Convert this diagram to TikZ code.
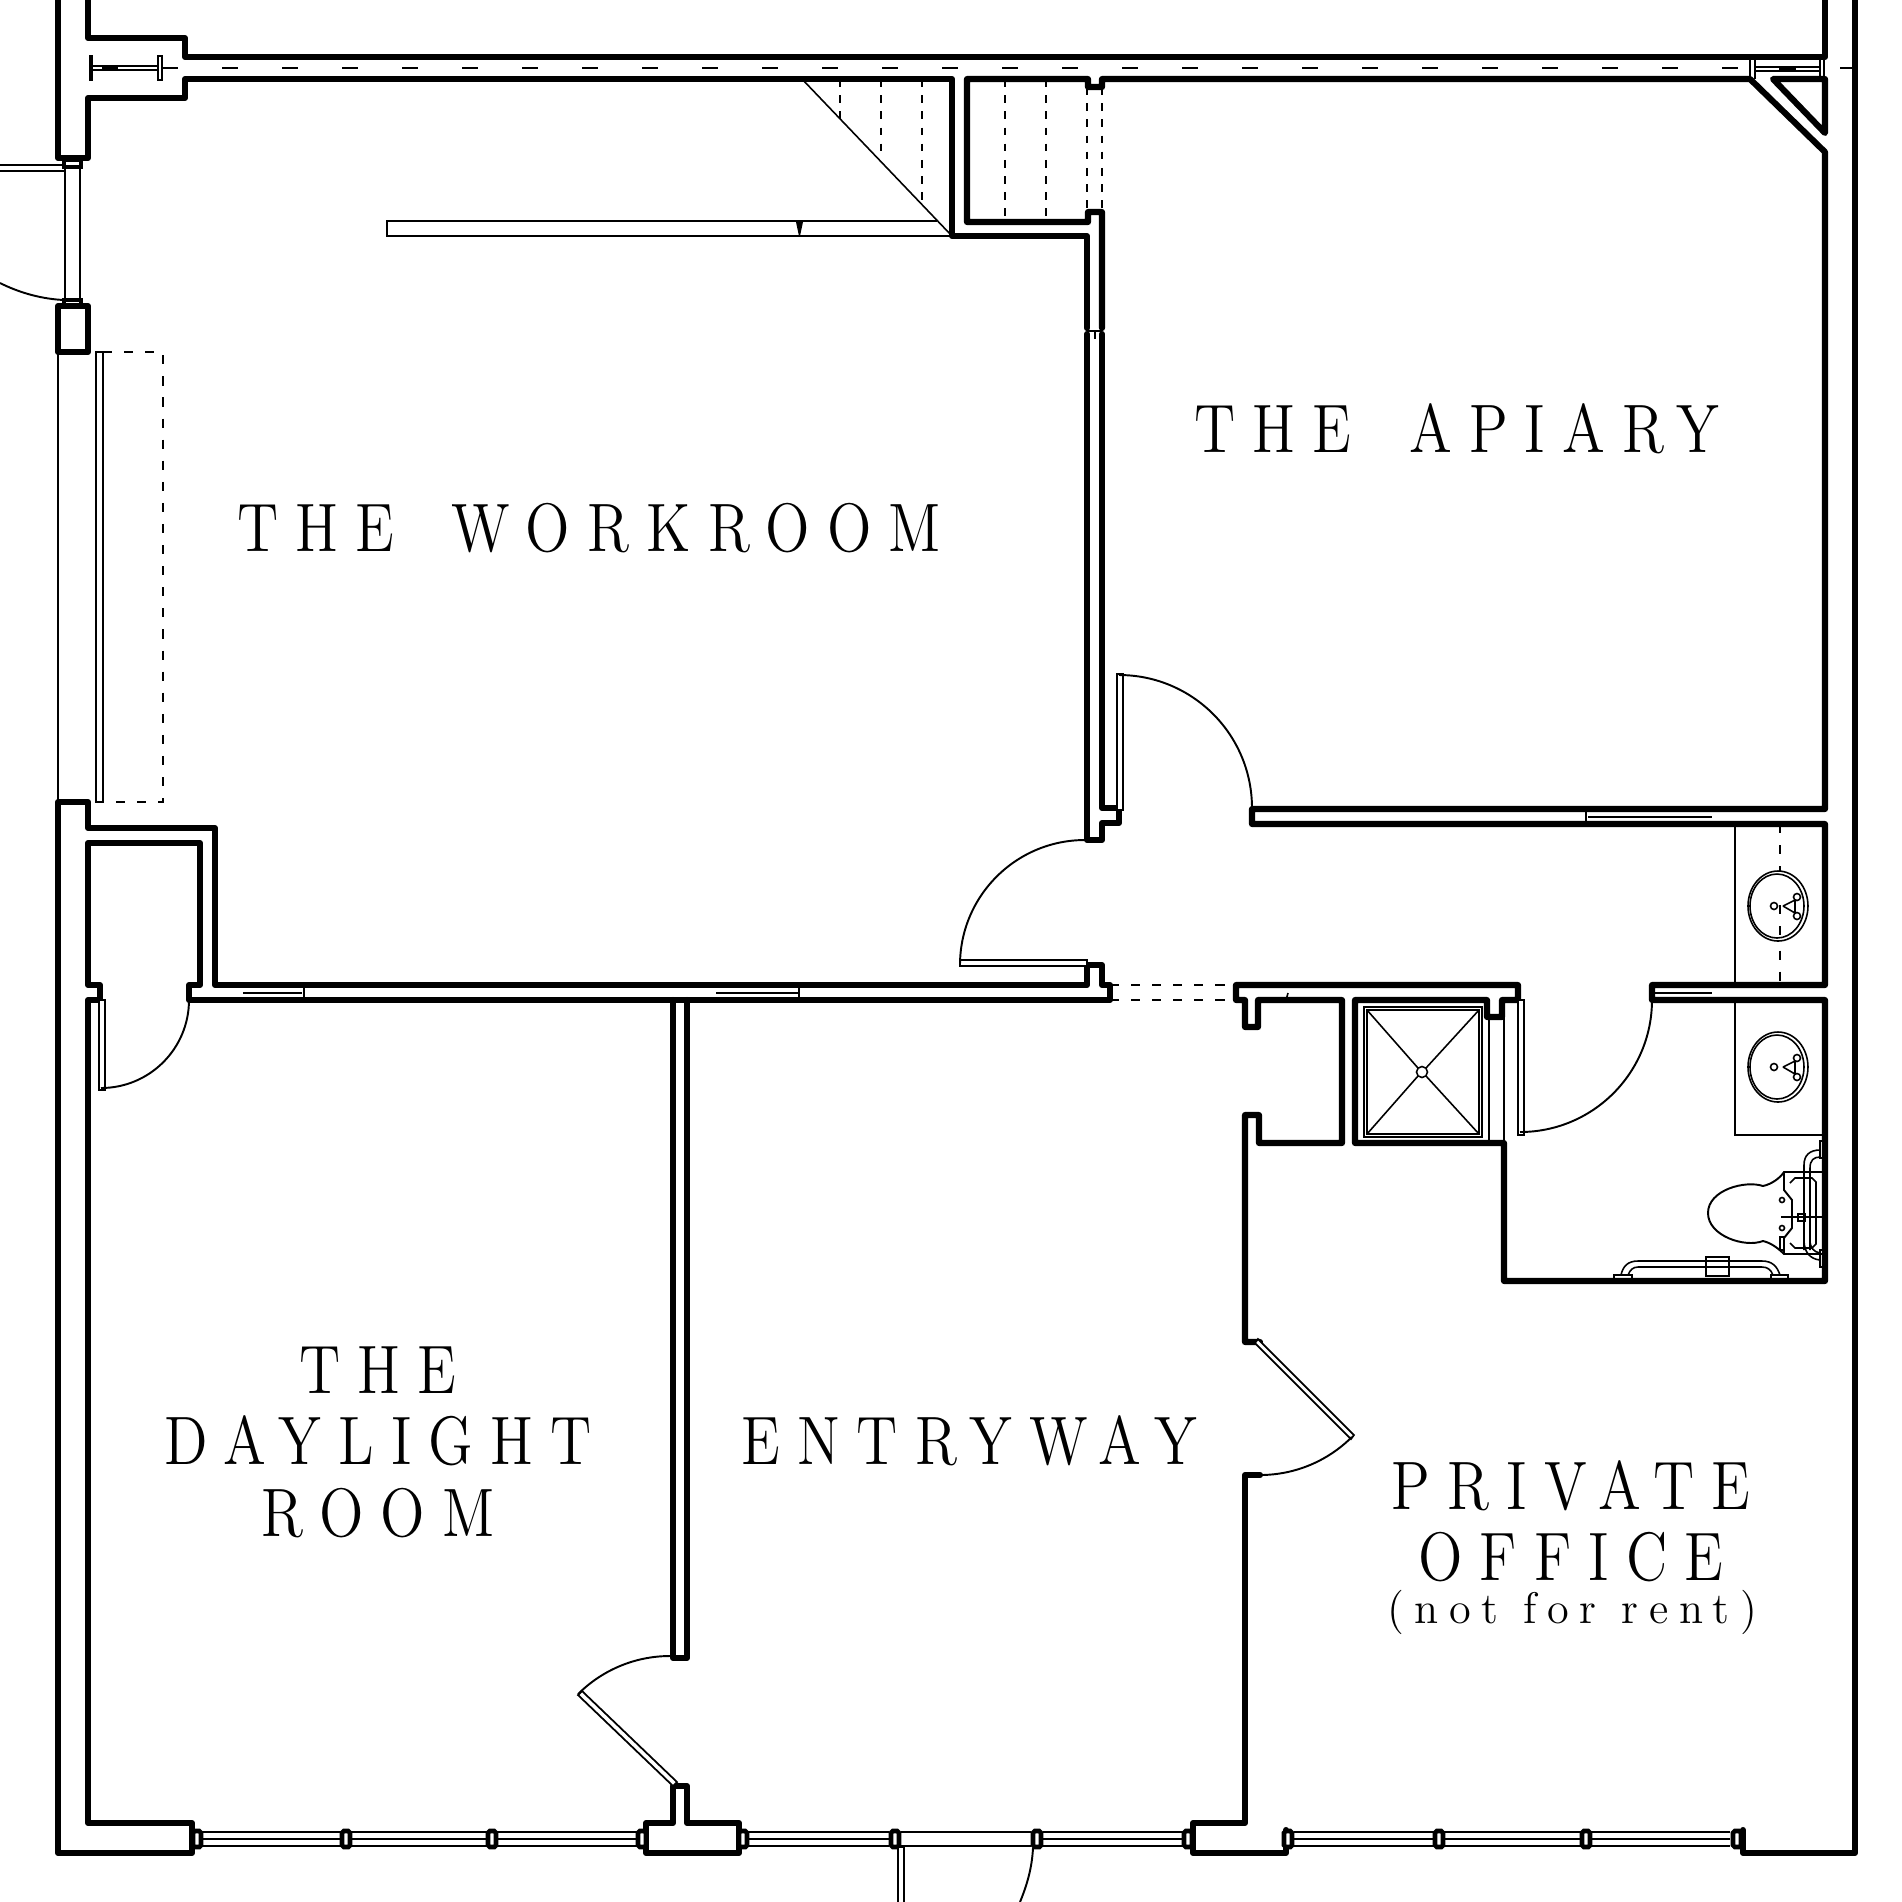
\documentclass[tikz,border=0pt]{standalone}
\usepackage{fontspec}
\usetikzlibrary{positioning}

\newfontfamily\roomface[LetterSpace=25,FakeStretch=0.85,WordSpace=1.6]{lmroman12-regular.otf}
\newfontfamily\noteface[LetterSpace=24]{lmroman12-regular.otf}
\newcommand{\roomfont}{\roomface\fontsize{19.5}{23}\selectfont}
\newcommand{\notefont}{\noteface\fontsize{12.6}{15}\selectfont}

\begin{document}
\begin{tikzpicture}[
    x=0.1mm, y=-0.1mm,
    wall/.style={line width=1.75pt, line join=round, line cap=round},
    thin_line/.style={line width=0.45pt},
    door_leaf/.style={line width=0.5pt, fill=white},
    swing/.style={line width=0.55pt},
    dash_line/.style={line width=0.65pt, dash pattern=on 2.2pt off 2.4pt},
    wide_dash/.style={line width=0.65pt, dash pattern=on 2.6pt off 3.4pt},
    mullion/.style={line width=1.3pt, rounded corners=0.5pt, fill=white},
    room_label/.style={align=center, font=\roomfont, inner sep=0pt}
]
\clip (0,0) rectangle (1902,1902);

% Top wall and left pier
\draw[wall] (88,0) -- (88,38) -- (185,38) -- (185,57) -- (1825,57) -- (1825,0);
\draw[wall] (58,0) -- (58,158) -- (88,158) -- (88,98) -- (185,98) -- (185,79) -- (952,79) -- (952,236) -- (1087,236) -- (1087,328);
\draw[wall] (1087,334) -- (1087,840) -- (1102,840) -- (1102,823) -- (1119,823) -- (1119,808) -- (1102,808) -- (1102,334);
\draw[wall] (1102,328) -- (1102,212) -- (1088,212) -- (1088,222) -- (967,222) -- (967,79) -- (1088,79) -- (1088,87) -- (1102,87) -- (1102,79) -- (1750,79) -- (1825,152) -- (1825,809) -- (1252,809) -- (1252,824) -- (1825,824) -- (1825,985) -- (1652,985) -- (1652,1000) -- (1825,1000) -- (1825,1281) -- (1504,1281) -- (1504,1143) -- (1355,1143) -- (1355,1000) -- (1487,1000) -- (1487,1017) -- (1502,1017) -- (1502,1000) -- (1518,1000) -- (1518,985) -- (1236,985) -- (1236,1000) -- (1245,1000) -- (1245,1027) -- (1258,1027) -- (1258,1000) -- (1342,1000) -- (1342,1143) -- (1259,1143) -- (1259,1115) -- (1245,1115) -- (1245,1342) -- (1260,1342);
\draw[wall] (1773,79) -- (1825,79) -- (1825,133) -- cycle;
\draw[thin_line] (1087,331) -- (1102,331) (1095,331) -- (1095,339);

% Beams in the top wall
\foreach \k in {0,...,25} {
    \draw[thin_line] ({222+60*\k},68) -- ({238+60*\k},68);
}
\draw[thin_line] (90,56) rectangle (92,80) (158,56) rectangle (162,80);
\draw[thin_line] (92,66) -- (158,66) (92,70) -- (158,70) (162,68) -- (178,68);
\draw[line width=1.2pt] (102,68) -- (118,68);
\draw[thin_line] (1750,60) -- (1750,79) (1755,60) -- (1755,79) (1820,60) -- (1820,79) (1824,60) -- (1824,79);
\draw[thin_line] (1755,67) -- (1820,67) (1755,71) -- (1820,71) (1840,68) -- (1855,68);
\draw[line width=1.2pt] (1779,68) -- (1796,68);

% Back door and window
\draw[line width=1.1pt, fill=white] (64,160) rectangle (81,167) (64,300) rectangle (81,306);
\draw[thin_line] (65,167) -- (65,300) (80,167) -- (80,300);
\draw[thin_line] (0,165) -- (64,165) (0,171) -- (64,171);
\draw[swing] (0,283) .. controls (20,293) and (42,299) .. (64,300);
\draw[wall] (58,306) rectangle (88,352);
\draw[thin_line] (58,352) -- (58,802);
\draw[door_leaf] (96,352) rectangle (103,802);
\draw[wide_dash] (103,352) -- (163,352) -- (163,802) -- (103,802);

% Stairs
\draw[thin_line] (802,79) -- (952,236);
\draw[dash_line] (840,79) -- (840,120) (881,79) -- (881,155) (922,79) -- (922,205);
\draw[dash_line] (1005,79) -- (1005,222) (1046,79) -- (1046,222) (1087,87) -- (1087,212) (1102,87) -- (1102,212);
\draw[thin_line] (937,221) -- (387,221) -- (387,236) -- (952,236);
\fill (796,222) -- (803,222) -- (800,236) -- (799,236) -- cycle;

% Closet and left wall
\draw[wall] (88,828) -- (88,802) -- (58,802) -- (58,1853) -- (192,1853) -- (192,1823) -- (88,1823) -- (88,1000) -- (100,1000) -- (100,985) -- (88,985) -- (88,843) -- (200,843) -- (200,985) -- (189,985) -- (189,1000) -- (1110,1000) -- (1110,985) -- (1102,985) -- (1102,965) -- (1087,965) -- (1087,985) -- (215,985) -- (215,828) -- cycle;
\draw[door_leaf] (99,1000) rectangle (105,1090);
\draw[swing] (189,1000) arc[start angle=0, end angle=-90, radius=0.88cm];
\draw[thin_line] (243,993) -- (302,993) (716,993) -- (798,993) (304,985) -- (304,1000) (799,985) -- (799,1000);

% Divider and front piers
\draw[wall] (673,1000) -- (673,1658) -- (687,1658) -- (687,1000);
\draw[wall] (646,1823) -- (673,1823) -- (673,1786) -- (687,1786) -- (687,1823) -- (739,1823) -- (739,1853) -- (646,1853) -- cycle;
\draw[door_leaf] (578,1695) -- (582,1691) -- (677,1782) -- (673,1786) -- cycle;
\draw[swing] (670,1656) arc[start angle=90, end angle=135, radius=1.3cm];
\draw[wall] (1260,1475) -- (1245,1475) -- (1245,1823) -- (1193,1823) -- (1193,1853) -- (1286,1853) -- (1286,1830);
\draw[wall] (1743,1830) -- (1743,1853) -- (1855,1853) -- (1855,0);

% Doors in the hall
\draw[door_leaf] (1117,674) rectangle (1123,810);
\draw[swing] (1119,675) arc[start angle=90, end angle=0, radius=1.33cm];
\draw[door_leaf] (960,960) rectangle (1087,966);
\draw[swing] (1085,840) arc[start angle=90, end angle=180, radius=1.25cm];
\draw[wide_dash] (1110,985) -- (1236,985) (1110,1000) -- (1236,1000);
\draw[door_leaf] (1258,1339) -- (1354,1435) -- (1351,1439) -- (1255,1343) -- cycle;
\draw[swing] (1260,1475) arc[start angle=-90, end angle=-45, radius=1.3cm];
\draw[thin_line] (1286,1000) -- (1288,993);
\draw[thin_line] (1588,817) -- (1712,817) (1654,993) -- (1712,993) (1586,809) -- (1586,824);

% Shower
\draw[thin_line] (1364,1007) rectangle (1482,1137) (1367,1010) rectangle (1479,1134);
\draw[thin_line] (1367,1010) -- (1418,1068) (1479,1010) -- (1426,1068) (1367,1134) -- (1418,1076) (1479,1134) -- (1426,1076);
\draw[thin_line] (1422,1072) circle[radius=0.055cm];
\draw[thin_line] (1489,1017) -- (1489,1143) (1504,1017) -- (1504,1143);
\draw[door_leaf] (1518,1000) rectangle (1524,1135);
\draw[swing] (1652,1000) arc[start angle=0, end angle=-90, radius=1.32cm];

% Counters and basins
\draw[thin_line] (1735,824) -- (1735,985) (1735,1000) -- (1735,1135) -- (1825,1135);
\draw[wide_dash] (1780,824) -- (1780,985);
\foreach \y in {906,1067} {
    \draw[thin_line, fill=white] (1778,\y) ellipse[x radius=0.3cm, y radius=0.35cm];
    \draw[thin_line] (1777,\y) ellipse[x radius=0.27cm, y radius=0.32cm];
    \draw[thin_line] (1774,\y) circle[radius=0.035cm];
    \draw[thin_line] (1797,{\y-9}) circle[radius=0.035cm] (1797,{\y+10}) circle[radius=0.035cm];
    \draw[thin_line] (1783,\y) -- (1795,{\y-6}) (1783,\y) -- (1795,{\y+7}) (1795,{\y+7}) -- (1795,{\y-6});
}
\draw[wide_dash] (1780,905) -- (1780,940);

% Toilet and grab bars
\draw[swing] (1763,1186) .. controls (1745,1180) and (1708,1190) .. (1708,1213) .. controls (1708,1236) and (1745,1248) .. (1763,1241);
\draw[swing] (1763,1186) .. controls (1772,1184) and (1780,1178) .. (1784,1172) -- (1822,1172);
\draw[swing] (1763,1241) .. controls (1772,1243) and (1780,1250) .. (1784,1254) -- (1822,1254) (1784,1172) -- (1784,1190) -- (1792,1200) -- (1792,1216);
\draw[swing] (1784,1254) -- (1784,1238) -- (1792,1228) -- (1792,1218);
\draw[thin_line] (1790,1183) -- (1795,1178) -- (1812,1178) -- (1816,1182) -- (1816,1244) -- (1812,1248) -- (1795,1248) -- (1790,1243);
\draw[thin_line] (1781,1217) -- (1822,1217) (1798,1214) rectangle (1805,1221);
\draw[thin_line] (1782,1200) circle[radius=0.025cm] (1782,1228) circle[radius=0.025cm] (1780,1237) rectangle (1784,1250);
\draw[thin_line] (1804,1250) -- (1804,1165) .. controls (1804,1155) and (1810,1150) .. (1820,1150);
\draw[thin_line] (1810,1250) -- (1810,1168) .. controls (1810,1160) and (1814,1157) .. (1820,1157);
\draw[thin_line] (1804,1240) .. controls (1804,1252) and (1810,1259) .. (1820,1260) (1810,1240) .. controls (1810,1248) and (1814,1252) .. (1820,1253);
\draw[thin_line] (1820,1141) rectangle (1824,1158) (1820,1250) rectangle (1824,1267);
\draw[thin_line] (1621,1275) .. controls (1623,1266) and (1628,1261) .. (1638,1261) -- (1762,1261) .. controls (1772,1261) and (1777,1266) .. (1780,1275);
\draw[thin_line] (1628,1275) .. controls (1630,1270) and (1633,1267) .. (1638,1267) -- (1762,1267) .. controls (1768,1267) and (1771,1270) .. (1773,1275);
\draw[thin_line] (1706,1257) rectangle (1729,1276) (1614,1275) rectangle (1632,1281) (1771,1275) rectangle (1788,1281);

% Front windows
\foreach \a/\b in {192/638, 747/889, 1043/1184, 1294/1730} {
    \draw[thin_line] (\a,1832) -- (\b,1832) (\a,1839) -- (\b,1839) (\a,1846) -- (\b,1846);
}
\draw[thin_line] (901,1832) -- (1031,1832) (901,1846) -- (1031,1846);
\foreach \m in {197,346,492,642,743,895,1037,1188,1288,1439,1586,1737} {
    \draw[mullion] ({\m-4},1831) rectangle ({\m+4},1847);
}

% Front door
\draw[door_leaf] (898,1847) rectangle (904,1910);
\draw[swing] (1033,1848) .. controls (1032,1868) and (1027,1885) .. (1020,1902);

% Room names
\node[room_label] (workroom) at (589,528) {THE WORKROOM};
\node[room_label] (apiary) at (1457,429) {THE APIARY};
\node[room_label] (daylight_a) at (378,1370) {THE};
\node[room_label] (daylight_b) at (378,1441) {DAYLIGHT};
\node[room_label] (daylight_c) at (378,1513) {ROOM};
\node[room_label] (entryway) at (969,1441) {ENTRYWAY};
\node[room_label] (office_a) at (1571,1486) {PRIVATE};
\node[room_label] (office_b) at (1571,1557) {OFFICE};
\node[room_label, font=\notefont] (office_c) at (1572,1612) {(not for rent)};

\end{tikzpicture}
\end{document}
